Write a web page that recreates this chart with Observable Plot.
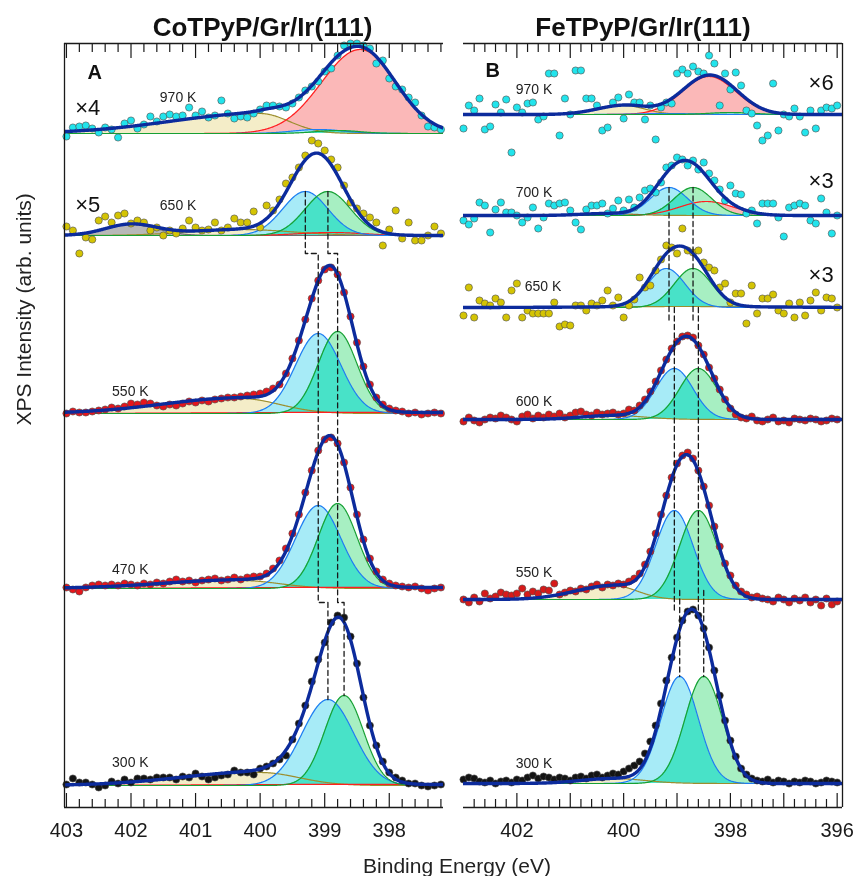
<!DOCTYPE html>
<html>
<head>
<meta charset="utf-8">
<script src="https://cdn.jsdelivr.net/npm/d3@7"></script>
<script src="https://cdn.jsdelivr.net/npm/@observablehq/plot@0.6"></script>
<style>
  html, body { margin: 0; padding: 0; background: #fff; }
  #wrap { position: relative; width: 855px; height: 876px; overflow: hidden; font-family: "Liberation Sans", Arial, sans-serif; }
  #wrap > div { position: absolute; top: 0; }
</style>
</head>
<body>
<div id="wrap"><div id="pa" style="left:0"></div><div id="pb" style="left:453px"></div></div>
<script>
// ---------------- DATA ----------------
// measured energies: 0.1 eV grid
const gridStepEV = 0.1;
const energiesA = d3.range(59).map(i => Math.round((403.0 - i * gridStepEV) * 10) / 10); // 403.0 .. 397.2
const energiesB = d3.range(71).map(i => Math.round((403.0 - i * gridStepEV) * 10) / 10); // 403.0 .. 396.0

// Panel A: CoTPyP/Gr/Ir(111)
const temperaturesA = ["970 K", "650 K", "550 K", "470 K", "300 K"];
const multipliersA = ["×4", "×5", "", "", ""];
const dotsA970 = [-3,6,7,8,5,1,6,4,-4,10, 13,5,9,17,12,17,19,17,18,26, 18,22,16,18,33,20,15,17,16,20,
  24,28,28,27,26,30,36,43,47,52, 62,65,78,88,90,90,88,85,70,73, 55,47,44,36,31,18,7,6,4];
const dotsA650 = [9,5,-18,-2,-4,15,19,13,20,22, 12,15,13,5,8,0,5,2,7,15, 8,5,6,13,5,8,17,13,13,24,
  8,30,25,36,52,58,68,80,95,92, 85,76,68,50,33,27,22,18,13,-10, 6,25,-3,13,-5,-5,0,9,2];
const dotsA550 = [0,2,1,1,2,3,4,6,5,7, 10,9,11,10,8,7,9,8,10,12, 11,13,12,14,15,16,16,17,18,19,
  20,22,25,29,40,55,73,94,115,133, 144,146,139,121,97,71,47,29,16,9, 5,3,2,0,1,-1,0,1,0];
const dotsA470 = [1,-1,-3,1,3,4,3,4,3,5, 4,3,5,4,6,5,7,9,7,8, 6,8,9,10,8,9,11,9,11,12,
  12,15,20,28,40,55,74,96,118,138, 149,151,145,126,101,74,49,30,17,9, 5,3,2,1,2,0,-2,0,1];
const dotsA300 = [1,7,3,3,1,-2,0,4,2,6, 3,7,7,6,8,8,8,6,9,8, 12,9,6,8,10,11,15,13,13,11,
  17,19,22,26,30,46,62,80,104,126, 143,163,170,168,149,122,88,60,40,24, 13,8,5,2,2,0,-1,0,1];

// fitted components: [component, centre eV, height, sigma (high-BE side), sigma (low-BE side)]
const fitA970 = [["yellow",400.00,20,1.4,0.45],["red",398.45,84,0.6,0.55],["blue",399.10,4,0.4,0.4],["green",398.80,3,0.35,0.35]];
const fitA650 = [["yellow",400.30,6,0.8,0.8],["gray",402.00,11,0.4,0.4],["red",398.90,3,0.5,0.5],["blue",399.30,44,0.35,0.35],["green",398.95,44,0.35,0.35]];
const fitA550 = [["yellow",400.30,15,1.2,0.6],["red",398.50,1.2,2,2],["blue",399.10,80,0.35,0.35],["green",398.80,82,0.30,0.30]];
const fitA470 = [["yellow",400.30,8,1.2,0.6],["red",398.50,1.2,2,2],["blue",399.10,83,0.35,0.35],["green",398.80,85,0.30,0.30]];
const fitA300 = [["yellow",400.00,13,1.2,0.6],["red",398.50,1.2,2,2],["blue",398.95,86,0.40,0.40],["green",398.70,90,0.30,0.30]];

// Panel B: FeTPyP/Gr/Ir(111)
const temperaturesB = ["970 K", "700 K", "650 K", "600 K", "550 K", "300 K"];
const multipliersB = ["×6", "×3", "×3", "", "", ""];
const dotsB970 = [-14,9,4,16,-15,-12,10,2,15,-38, 7,2,11,12,-5,-2,41,41,-21,16, 0,44,44,16,16,9,-16,-13,12,17,
  -4,20,12,12,-5,9,-25,7,12,11, 41,45,41,48,43,41,59,51,9,41, 25,42,29,4,1,-11,-26,-21,31,-16,
  0,-2,6,-2,-18,4,-14,4,7,6, 9];
const dotsB700 = [-5,-9,-3,13,10,-17,6,13,3,3, 0,-7,-2,8,-13,-2,12,10,12,13, 5,-7,-14,6,10,10,12,2,7,15,
  5,16,8,18,25,27,23,33,48,50, 58,56,50,55,46,53,42,35,26,15, 30,22,21,2,5,-8,12,12,12,-2,
  -21,8,10,12,10,-5,-8,17,3,-18, 0];
const dotsB650 = [-8,20,-10,7,4,2,9,5,-10,17, 24,-10,-3,-6,-6,-6,-6,5,-19,-17, -18,2,2,-3,4,2,7,17,2,10,
  -10,2,8,30,20,22,37,48,62,60, 54,79,57,55,57,45,40,37,20,24, 5,14,14,-16,22,-6,9,9,13,-3,
  -6,4,-10,5,-8,7,15,-3,10,9, 0];
const dotsB600 = [-2,2,-1,-3,0,2,1,4,2,0, -2,3,5,1,4,2,5,3,6,2, 4,7,8,5,4,7,5,6,7,5,
  6,10,9,14,20,28,38,49,60,71, 78,83,84,82,74,65,52,41,30,20, 11,5,2,1,3,-1,-2,0,2,-2,
  -1,-3,1,0,-1,1,0,-2,-1,1, 0];
const dotsB550 = [0,-3,2,-2,6,1,3,7,5,4, 6,11,5,8,6,10,9,16,5,7, 9,8,11,10,13,15,12,15,14,16,
  15,18,21,26,35,48,66,85,104,122, 136,144,147,141,129,113,94,73,53,36, 24,14,8,5,2,3,1,0,-2,2,
  0,-3,1,-1,2,-3,0,-6,1,-5, -2];
const dotsB300 = [4,6,5,2,1,3,0,2,3,1, 4,3,6,8,5,7,6,4,6,5, 3,6,7,5,8,9,6,8,10,9,
  12,15,18,22,30,42,58,80,103,126, 146,163,172,174,168,155,136,113,88,63, 43,27,15,9,5,3,2,4,1,3,
  2,0,2,1,3,2,0,1,3,2, 1];

const fitB970 = [["yellow",400.00,9,0.5,0.4],["red",398.40,38,0.5,0.5],["blue",399.20,1,0.5,0.5],["green",398.00,2,0.4,0.4]];
const fitB700 = [["yellow",400.30,2,0.5,0.5],["red",398.45,14,0.5,0.5],["blue",399.15,28,0.35,0.35],["green",398.70,28,0.35,0.35]];
const fitB650 = [["yellow",398.90,1,1.5,1.5],["blue",399.20,39,0.35,0.35],["green",398.70,39,0.35,0.35]];
const fitB600 = [["yellow",400.20,4,0.6,0.6],["blue",399.05,51,0.35,0.35],["green",398.60,51,0.35,0.35]];
const fitB550 = [["yellow",400.20,14,0.7,0.45],["blue",399.05,89,0.35,0.35],["green",398.60,89,0.35,0.35]];
const fitB300 = [["yellow",400.20,5,0.6,0.6],["blue",398.95,107,0.35,0.35],["green",398.50,107,0.35,0.35]];

// tick values
const majorTicksA = [403, 402, 401, 400, 399, 398];
const minorTicksA = [402.8,402.6,402.4,402.2,401.8,401.6,401.4,401.2,400.8,400.6,400.4,400.2,399.8,399.6,399.4,399.2,398.8,398.6,398.4,398.2,397.8,397.6,397.4,397.2];
const labelTicksA = [403, 402, 401, 400, 399, 398];
const majorTicksB = [402, 401, 400, 399, 398, 397, 396];
const minorTicksB = [402.8,402.6,402.4,402.2,401.8,401.6,401.4,401.2,400.8,400.6,400.4,400.2,399.8,399.6,399.4,399.2,398.8,398.6,398.4,398.2,397.8,397.6,397.4,397.2,396.8,396.6,396.4,396.2];
const labelTicksB = [402, 400, 398, 396];

// ---------------- LAYOUT / STYLE ----------------
const stackOffsetsA = [674, 572, 394, 219, 22];
const stackOffsetsB = [693, 592, 500, 388, 208, 24];
const labelPlaceA = [[401.27, 36], [401.27, 30], [402.01, 22], [402.01, 19], [402.01, 23]];
const labelPlaceB = [[401.68, 25], [401.68, 23], [401.51, 21], [401.68, 18], [401.68, 27], [401.68, 20]];
const multPlaceA = [[402.67, 26], [402.67, 31]];
const multPlaceB = [[396.30, 32], [396.30, 35], [396.30, 33]];
const dotColorsA = ["#22e4ec", "#d4c404", "#e5161c", "#e5161c", "#141414"];
const dotColorsB = ["#22e4ec", "#22e4ec", "#d4c404", "#d61a1a", "#d61a1a", "#141414"];
const COMP = {
  red:    {fill: "#fbb8b8", stroke: "#ff1f1f"},
  yellow: {fill: "#f4edc8", stroke: "#9c8e2e"},
  blue:   {fill: "#a7ebf7", stroke: "#1f7cf2"},
  green:  {fill: "#a7efc2", stroke: "#17a034"},
  gray:   {fill: "#b8b8b8", stroke: "#6e6e6e"}
};
const TEAL = "#48e2c8", ENVELOPE = "#0c2b9c", INK = "#1a1a1a";
const FONT = "'Liberation Sans', Arial, sans-serif";
const intFormat = d3.format("d");

function gauss(p, E) {
  const d = E - p.c, s = d >= 0 ? p.sH : p.sL;
  return p.h * Math.exp(-d * d / (2 * s * s));
}

function spectrumMarks(fit, dots, energies, offset, color, fine) {
  const comps = fit.map(([type, c, h, sH, sL]) => ({type, c, h, sH, sL}));
  const rows = comps.map(p => fine.map(E => ({E, base: offset, top: offset + gauss(p, E)})));
  const marks = [];
  comps.forEach((p, i) => marks.push(Plot.areaY(rows[i], {x: "E", y1: "base", y2: "top", fill: COMP[p.type].fill, mixBlendMode: "multiply", clip: true})));
  const bi = comps.findIndex(p => p.type === "blue"), gi = comps.findIndex(p => p.type === "green");
  if (bi >= 0 && gi >= 0) {
    marks.push(Plot.areaY(fine.map((E, k) => ({E, base: offset, top: Math.min(rows[bi][k].top, rows[gi][k].top)})),
      {x: "E", y1: "base", y2: "top", fill: TEAL, clip: true}));
  }
  comps.forEach((p, i) => marks.push(Plot.line(rows[i], {x: "E", y: "top", stroke: COMP[p.type].stroke, strokeWidth: 1.2, clip: true})));
  const env = fine.map((E, k) => ({E, y: offset + d3.sum(rows, r => r[k].top - offset)}));
  const pts = dots.map((v, i) => ({E: energies[i], y: offset + v}));
  marks.push(Plot.dot(pts, {x: "E", y: "y", r: 3.6, fill: color, stroke: "#4a4a4a", strokeWidth: 0.6}));
  marks.push(Plot.line(env, {x: "E", y: "y", stroke: ENVELOPE, strokeWidth: 3.4, strokeLinejoin: "round", clip: true}));
  return marks;
}

function axisMarks(major, minor, labels, yTop) {
  return [
    Plot.ruleY([0], {stroke: INK, strokeWidth: 1.3}),
    Plot.ruleY([yTop], {stroke: INK, strokeWidth: 1.3}),
    Plot.axisX({anchor: "bottom", ticks: major, tickSize: -14, fill: "none", stroke: INK, strokeWidth: 1.2, label: null}),
    Plot.axisX({anchor: "bottom", ticks: minor, tickSize: -8, fill: "none", stroke: INK, strokeWidth: 1.2, label: null}),
    Plot.axisX({anchor: "top", ticks: major, tickSize: -14, fill: "none", stroke: INK, strokeWidth: 1.2, label: null}),
    Plot.axisX({anchor: "top", ticks: minor, tickSize: -8, fill: "none", stroke: INK, strokeWidth: 1.2, label: null}),
    Plot.axisX({anchor: "bottom", ticks: labels, tickFormat: intFormat, tickSize: 0, tickPadding: 15, fontSize: 20, fill: INK, label: null})
  ];
}

function dashed(segs) {
  return segs.map(s => Plot.line(s, {x: "E", y: "y", stroke: INK, strokeWidth: 1.3, strokeDasharray: "5,3.5"}));
}

const Y_TOP = 764;

// ---------------- PANEL A ----------------
const domainA = [403.03, 397.16];
const fineA = d3.range(40303, 39715, -1).map(k => k / 100);
const fitsA = [fitA970, fitA650, fitA550, fitA470, fitA300];
const dotsA = [dotsA970, dotsA650, dotsA550, dotsA470, dotsA300];
const peakA2 = [fitA650[3][1], fitA650[4][1]];
const peakA34 = [fitA550[2][1], fitA550[3][1]];
const peakA5 = [fitA300[2][1], fitA300[3][1]];
const yL1 = stackOffsetsA[1] - 18, yL2 = stackOffsetsA[3] - 14;
const dashA = [0, 1].flatMap(j => [
  [{E: peakA2[j], y: stackOffsetsA[1] + fitA650[3 + j][2]}, {E: peakA2[j], y: yL1}, {E: peakA34[j], y: yL1}, {E: peakA34[j], y: yL2}, {E: peakA5[j], y: yL2}, {E: peakA5[j], y: stackOffsetsA[4] + fitA300[2 + j][2]}]
]);

const plotA = Plot.plot({
  width: 453, height: 876, marginLeft: 64, marginRight: 10, marginTop: 43, marginBottom: 69,
  style: {background: "transparent", overflow: "visible", fontFamily: FONT},
  x: {domain: domainA, axis: null, label: null},
  y: {domain: [0, Y_TOP], axis: null, label: null},
  marks: [
    ...fitsA.flatMap((f, i) => spectrumMarks(f, dotsA[i], energiesA, stackOffsetsA[i], dotColorsA[i], fineA)),
    ...dashed(dashA),
    ...axisMarks(majorTicksA, minorTicksA, labelTicksA, Y_TOP),
    Plot.ruleX([domainA[0]], {stroke: INK, strokeWidth: 1.3}),
    Plot.text(temperaturesA, {x: (d, i) => labelPlaceA[i][0], y: (d, i) => stackOffsetsA[i] + labelPlaceA[i][1], fontSize: 14, fill: "#222", lineAnchor: "middle"}),
    Plot.text(multipliersA.slice(0, 2), {x: (d, i) => multPlaceA[i][0], y: (d, i) => stackOffsetsA[i] + multPlaceA[i][1], fontSize: 22, fill: "#111", lineAnchor: "middle"}),
    Plot.text(["A"], {frameAnchor: "top-left", dx: 23, dy: 29, fontSize: 20, fontWeight: "bold", fill: "#111", lineAnchor: "middle"}),
    Plot.text(["CoTPyP/Gr/Ir(111)"], {frameAnchor: "top", dx: 8.5, dy: -8, lineAnchor: "bottom", fontSize: 26, fontWeight: "bold", fill: "#111"}),
    Plot.text(["XPS Intensity (arb. units)"], {frameAnchor: "left", dx: -40, rotate: -90, fontSize: 21, fill: "#222", lineAnchor: "middle"})
  ]
});
document.getElementById("pa").appendChild(plotA);

// ---------------- PANEL B ----------------
const domainB = [403.0, 395.9];
const fineB = d3.range(40300, 39589, -1).map(k => k / 100);
const fitsB = [fitB970, fitB700, fitB650, fitB600, fitB550, fitB300];
const dotsB = [dotsB970, dotsB700, dotsB650, dotsB600, dotsB550, dotsB300];
const peakB2 = [fitB700[2][1], fitB700[3][1]];
const peakB45 = [fitB600[1][1], fitB600[2][1]];
const peakB6 = [fitB300[1][1], fitB300[2][1]];
const dashB = [0, 1].flatMap(j => [
  [{E: peakB2[j], y: stackOffsetsB[1] + fitB700[2 + j][2]}, {E: peakB2[j], y: stackOffsetsB[2] - 16}],
  [{E: peakB45[j], y: stackOffsetsB[2]}, {E: peakB45[j], y: stackOffsetsB[4] - 11}],
  [{E: peakB6[j], y: stackOffsetsB[4] + 9}, {E: peakB6[j], y: stackOffsetsB[5] + fitB300[1 + j][2]}]
]);

const plotB = Plot.plot({
  width: 402, height: 876, marginLeft: 10, marginRight: 13, marginTop: 43, marginBottom: 69,
  style: {background: "transparent", overflow: "visible", fontFamily: FONT},
  x: {domain: domainB, axis: null, label: null},
  y: {domain: [0, Y_TOP], axis: null, label: null},
  marks: [
    ...fitsB.flatMap((f, i) => spectrumMarks(f, dotsB[i], energiesB, stackOffsetsB[i], dotColorsB[i], fineB)),
    ...dashed(dashB),
    ...axisMarks(majorTicksB, minorTicksB, labelTicksB, Y_TOP),
    Plot.ruleX([domainB[1]], {stroke: INK, strokeWidth: 1.3}),
    Plot.text(temperaturesB, {x: (d, i) => labelPlaceB[i][0], y: (d, i) => stackOffsetsB[i] + labelPlaceB[i][1], fontSize: 14, fill: "#222", lineAnchor: "middle"}),
    Plot.text(multipliersB.slice(0, 3), {x: (d, i) => multPlaceB[i][0], y: (d, i) => stackOffsetsB[i] + multPlaceB[i][1], fontSize: 22, fill: "#111", lineAnchor: "middle"}),
    Plot.text(["B"], {frameAnchor: "top-left", dx: 22, dy: 27, fontSize: 20, fontWeight: "bold", fill: "#111", lineAnchor: "middle"}),
    Plot.text(["FeTPyP/Gr/Ir(111)"], {frameAnchor: "top", dx: -10, dy: -8, lineAnchor: "bottom", fontSize: 26, fontWeight: "bold", fill: "#111"}),
    Plot.text(["Binding Energy (eV)"], {frameAnchor: "bottom-left", dx: -6.5, dy: 65, lineAnchor: "bottom", textAnchor: "middle", fontSize: 21, fill: "#222"})
  ]
});
document.getElementById("pb").appendChild(plotB);
</script>
</body>
</html>
